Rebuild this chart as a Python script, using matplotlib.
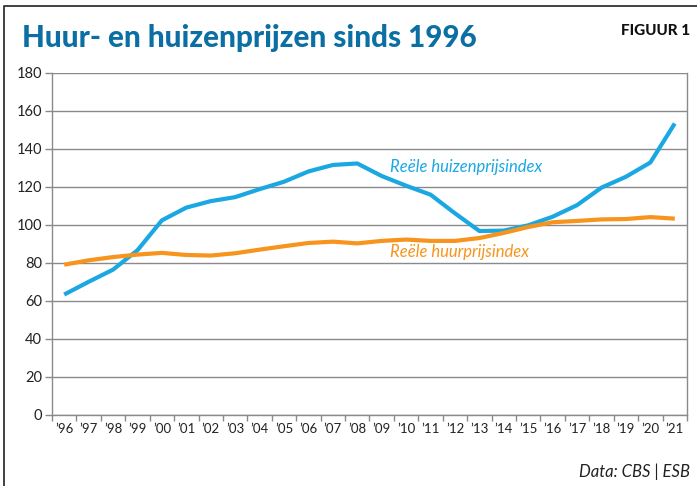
import matplotlib
matplotlib.use("Agg")
import matplotlib.pyplot as plt
from matplotlib.lines import Line2D

years = ["’96", "’97", "’98", "’99", "’00", "’01", "’02", "’03", "’04", "’05", "’06", "’07", "’08",
         "’09", "’10", "’11", "’12", "’13", "’14", "’15", "’16", "’17", "’18", "’19", "’20", "’21"]
huizen = [63.3, 70.0, 76.4, 86.6, 102.3, 109.0, 112.4, 114.5, 118.7, 122.6, 128.0, 131.4, 132.2,
          125.6, 120.5, 115.8, 106.0, 96.7, 96.9, 99.7, 104.2, 110.3, 119.5, 125.2, 132.7, 153.2]
huur = [79.0, 81.3, 83.0, 84.3, 85.2, 84.1, 83.8, 85.0, 86.9, 88.7, 90.4, 91.1, 90.2,
        91.5, 92.2, 91.5, 91.5, 93.0, 95.7, 98.8, 101.3, 102.0, 102.8, 103.0, 104.0, 103.2]

blue = "#1ba8e2"
orange = "#f7941d"
grid_col = "#8a8a8a"

fig = plt.figure(figsize=(6.97, 4.86), dpi=100)
ax = fig.add_axes([0.0746, 0.1461, 0.911, 0.7047])

x = list(range(len(years)))
ax.plot(x, huizen, color=blue, lw=3.0, solid_capstyle="butt", zorder=3)
ax.plot(x, huur, color=orange, lw=3.0, solid_capstyle="butt", zorder=3)

ax.set_xlim(-0.5, len(years) - 0.5)
ax.set_ylim(0, 180)
ax.set_yticks(range(0, 181, 20))
ax.set_yticklabels([str(v) for v in range(0, 181, 20)], fontsize=10.5, family="Lato", color="#222222")
ax.set_xticks(x)
ax.set_xticklabels(years, fontsize=9.5, family="Lato", color="#222222")
ax.set_xticks([i - 0.5 for i in range(len(years) + 1)], minor=True)
ax.tick_params(axis="x", which="major", length=0, pad=6)
ax.tick_params(axis="x", which="minor", length=4, color=grid_col, width=1)
ax.tick_params(axis="y", length=5, color=grid_col, width=1, pad=2)

ax.grid(axis="y", color=grid_col, lw=1)
ax.set_axisbelow(True)
for s in ["left", "right", "bottom"]:
    ax.spines[s].set_color(grid_col)
    ax.spines[s].set_linewidth(1)
ax.spines["top"].set_visible(False)

ax.text(13.35, 130.6, "Reële huizenprijsindex", color=blue, fontsize=12, family="Lato",
        style="italic", va="center", ha="left")
ax.text(13.35, 85.5, "Reële huurprijsindex", color=orange, fontsize=12, family="Lato",
        style="italic", va="center", ha="left")

title = fig.text(22 / 697, 1 - 47 / 486, "Huur- en huizenprijzen sinds 1996", color="#0b6fa3",
                 fontsize=26, fontweight="black", family="Lato", ha="left", va="baseline")
# shrink the title so it spans the same width as in the original
renderer = fig.canvas.get_renderer()
w = title.get_window_extent(renderer).width
title.set_fontsize(26 * 453 / w)

fig.text(690 / 697, 1 - 35 / 486, "FIGUUR 1", color="#111111", fontsize=11, fontweight="black",
         family="Lato", ha="right", va="baseline")
fig.text(690 / 697, 1 - 477 / 486, "Data: CBS | ESB", color="#222222", fontsize=12,
         style="italic", family="Lato", ha="right", va="baseline")

# frame around the figure (top and left edge)
fig.add_artist(Line2D([4 / 697, 4 / 697, 1], [0, 1 - 6 / 486, 1 - 6 / 486],
                      transform=fig.transFigure, color="#333333", lw=1.3))

fig.savefig("out.png", dpi=100)
